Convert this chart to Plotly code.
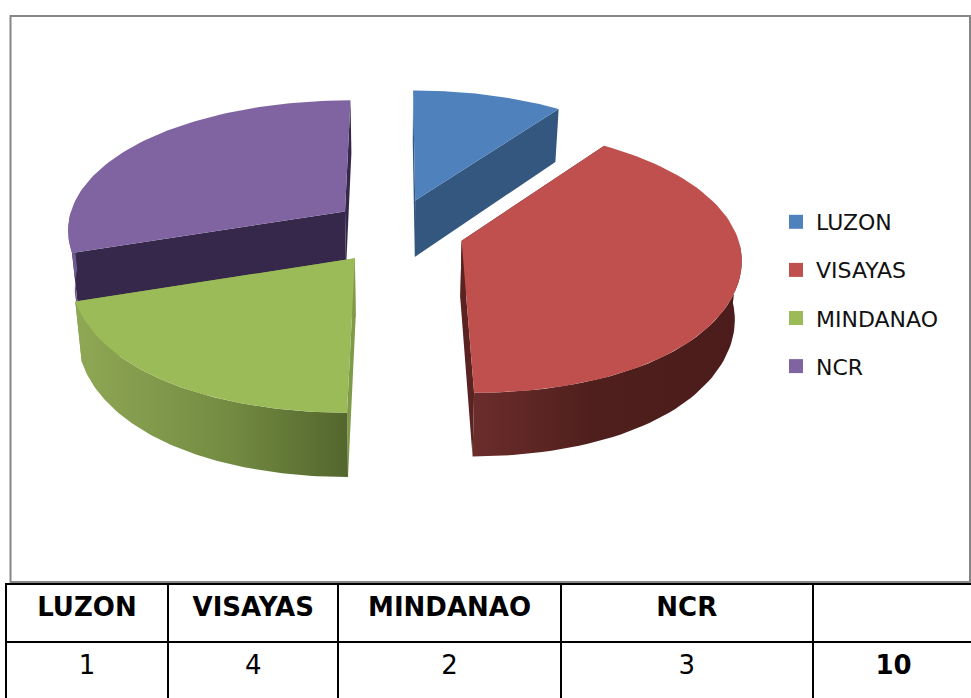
import math
import plotly.graph_objects as go

categories = ["LUZON", "VISAYAS", "MINDANAO", "NCR"]
values = [1, 4, 2, 3]
table_total = [10]

top_colors = ["#4f81bd", "#c0504d", "#9bbb59", "#8064a2"]
radial_colors = ["#33577f", "#5a2321", "#7f9a48", "#35284a"]
arc_scales = [
    [[0, "#33577f"], [1, "#33577f"]],
    [[0, "#6b2d2b"], [0.45, "#4f1f1d"], [1, "#4b1c1b"]],
    [[0, "#8fa855"], [0.55, "#748c42"], [1, "#53662d"]],
    [[0, "#6f5a90"], [1, "#6f5a90"]],
]
explosion = [62, 69, 70, 63]

# The figure runs a few pixels past the window so the table's outer right and
# bottom rules fall outside the visible page, as they do in the reference.
W, H = 975, 702
CX, CY = 396, 230      # centre of the pie on screen
RX_LEFT, RX_RIGHT, RY = 276.8, 275.4, 131
RX_SLOPE = 0.15
Y_RATIO = 0.5


def project(ax, ay, deg):
    t = math.radians(deg)
    X, Y = math.sin(t), math.cos(t)
    k = 0.12 + (0.04 * Y * Y if Y < 0 else 0)
    sx = 1 / (1 + k * Y)
    sy = 1 / (1 + 0.12 * Y)
    rx = (RX_RIGHT if X >= 0 else RX_LEFT) + RX_SLOPE * (ay - CY)
    ry = RY + 0.11 * (ay - CY)
    bow = 4 if Y > 0 else 2
    return CX + (ax - CX + rx * X) * sx, ay - ry * Y * sy + bow * Y * Y


def lower(p):
    x, y = p
    return CX + (x - CX) * 0.98, y + 49 + 0.037 * y


fig = go.Figure()
total = sum(values)
slices = []
start = 0.0
for i, v in enumerate(values):
    sweep = 360.0 * v / total
    mid = math.radians(start + sweep / 2)
    ax = CX + explosion[i] * math.sin(mid)
    ay = CY - explosion[i] * Y_RATIO * math.cos(mid)
    degs = [start + sweep * k / 80 for k in range(81)]
    arc = [project(ax, ay, d) for d in degs]
    front = [project(ax, ay, d) for d in degs if math.cos(math.radians(d)) <= 0]
    slices.append((i, (ax, ay), arc, front))
    start += sweep


def poly(pts, name, color=None, scale=None):
    kw = dict(fillcolor=color) if scale is None else dict(
        fillgradient=dict(type="horizontal", colorscale=scale))
    fig.add_trace(go.Scatter(
        x=[p[0] for p in pts], y=[p[1] for p in pts], mode="lines",
        line=dict(width=0), fill="toself", hoverinfo="skip",
        showlegend=False, name=name, **kw))


for i, apex, arc, front in [slices[3], slices[2], slices[0], slices[1]]:
    name = categories[i]
    for edge in (arc[0], arc[-1]):
        poly([apex, edge, lower(edge), lower(apex)], name, color=radial_colors[i])
    if front:
        poly(front + [lower(p) for p in reversed(front)], name, scale=arc_scales[i])
    poly([apex] + arc, name, color=top_colors[i])

for i, name in enumerate(categories):
    fig.add_trace(go.Scatter(
        x=[None], y=[None], mode="markers", name=name, legendgroup=name,
        marker=dict(symbol="square", size=14, color=top_colors[i],
                    line=dict(width=0))))

fig.add_trace(go.Table(
    domain=dict(x=[5.5 / W, 1], y=[0, 118 / H]),
    columnwidth=[163, 170, 223, 252, 162],
    header=dict(
        values=["<b>%s</b>" % c for c in categories] + [""],
        height=58, align="center", fill_color="white",
        line=dict(color="black", width=2),
        font=dict(family="DejaVu Sans", size=26, color="black")),
    cells=dict(
        values=[["<span>%d</span>" % v] for v in values]
        + [["<b>%d</b>" % table_total[0]]],
        height=60, align="center", fill_color="white",
        line=dict(color="black", width=2),
        font=dict(family="DejaVu Sans", size=26, color="black")),
))

fig.update_layout(
    width=W, height=H, autosize=False,
    margin=dict(l=0, r=0, t=0, b=0),
    paper_bgcolor="white", plot_bgcolor="white",
    xaxis=dict(range=[0, W], visible=False, fixedrange=True),
    yaxis=dict(range=[H, 0], visible=False, fixedrange=True),
    legend=dict(
        x=776 / W, y=1 - 201 / H, xanchor="left", yanchor="top",
        bgcolor="rgba(0,0,0,0)", tracegroupgap=16.5, traceorder="grouped",
        font=dict(family="DejaVu Sans", size=22, color="#111111")),
    shapes=[dict(type="rect", xref="paper", yref="paper",
                 x0=10.5 / W, x1=970 / W, y0=1 - 582 / H, y1=1 - 16 / H,
                 line=dict(color="#868686", width=2), layer="below")],
)
fig.write_html(
    "out.html",
    config=dict(displayModeBar=False),
    post_script="document.body.style.margin='0';"
                "document.body.style.overflow='hidden';"
                "document.documentElement.style.overflow='hidden';",
)
